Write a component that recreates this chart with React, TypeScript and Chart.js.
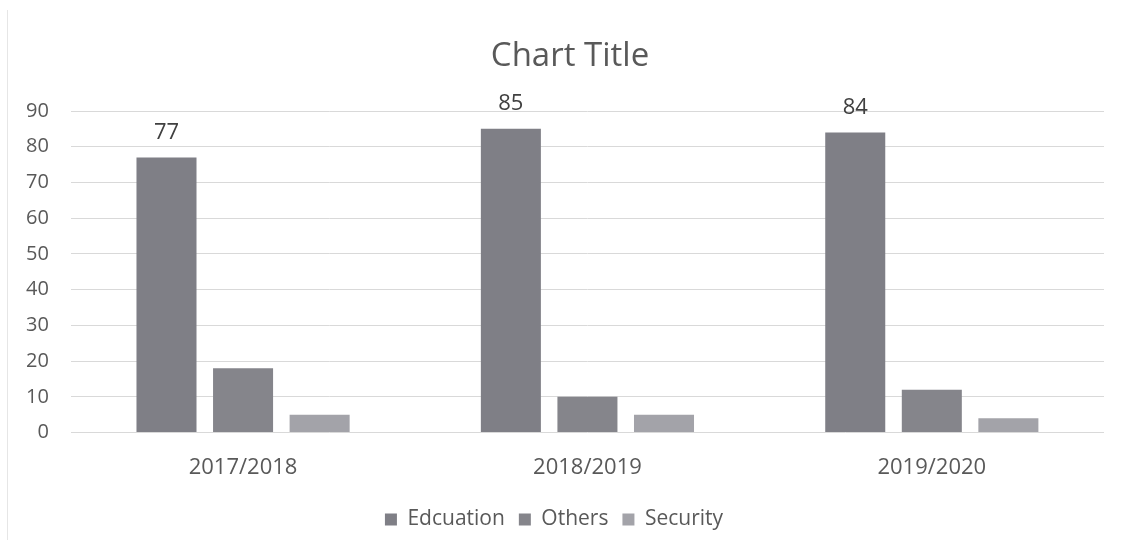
import React, { useEffect, useRef } from "react";
import { Chart, registerables } from "chart.js";

Chart.register(...registerables);

const titleText = "Chart Title";
const categories = ["2017/2018", "2018/2019", "2019/2020"];
const seriesNames = ["Edcuation", "Others", "Security"];
const education = [77, 85, 84];
const others = [18, 10, 12];
const security = [5, 5, 4];
const yTicks = [0, 10, 20, 30, 40, 50, 60, 70, 80, 90];

const colors = ["#7f7f86", "#85858b", "#a3a3a9"];
const FONT = "'Open Sans', 'Noto Sans', sans-serif";

const labelPlugin = {
  id: "eduLabels",
  afterDatasetsDraw(chart: any) {
    const ctx = chart.ctx;
    const meta = chart.getDatasetMeta(0);
    ctx.save();
    ctx.font = `22px ${FONT}`;
    ctx.fillStyle = "#404040";
    ctx.textAlign = "center";
    ctx.textBaseline = "middle";
    meta.data.forEach((bar: any, i: number) => {
      ctx.fillText(String(education[i]), bar.x, bar.y - 25);
    });
    ctx.restore();
  },
};

const titlePlugin = {
  id: "centeredTitle",
  afterDraw(chart: any) {
    const ctx = chart.ctx;
    const area = chart.chartArea;
    ctx.save();
    ctx.font = `33px ${FONT}`;
    ctx.fillStyle = "#595959";
    ctx.textAlign = "center";
    ctx.textBaseline = "middle";
    ctx.fillText(titleText, (area.left + area.right) / 2 + 482 - (area.left + area.right) / 2 + 88, area.top - 54);
    ctx.restore();
  },
};

export default function App() {
  const ref = useRef<HTMLCanvasElement>(null);
  useEffect(() => {
    if (!ref.current) return;
    const chart = new Chart(ref.current, {
      type: "bar",
      data: {
        labels: categories,
        datasets: [
          { label: seriesNames[0], data: education, backgroundColor: colors[0] },
          { label: seriesNames[1], data: others, backgroundColor: colors[1] },
          { label: seriesNames[2], data: security, backgroundColor: colors[2] },
        ],
      },
      options: {
        animation: false,
        responsive: true,
        maintainAspectRatio: false,
        datasets: { bar: { categoryPercentage: 0.667, barPercentage: 0.784 } },
        layout: { padding: { left: 4, right: 18, top: 111, bottom: 10 } },
        plugins: {
          title: { display: false },
          legend: {
            position: "bottom",
            labels: {
              boxWidth: 12,
              boxHeight: 12,
              color: "#595959",
              font: { family: FONT, size: 21 },
              padding: 14,
            },
          },
          tooltip: { enabled: false },
        },
        scales: {
          x: {
            grid: { display: false },
            border: { display: false },
            ticks: { color: "#595959", font: { family: FONT, size: 22 }, padding: 14 },
          },
          y: {
            min: 0,
            max: 90,
            afterBuildTicks: (axis: any) => {
              axis.ticks = yTicks.map((v) => ({ value: v }));
            },
            grid: { color: "#d9d9d9", drawTicks: false },
            border: { display: false },
            ticks: { color: "#595959", font: { family: FONT, size: 20 }, padding: 22 },
          },
        },
      },
      plugins: [labelPlugin, titlePlugin],
    });
    return () => chart.destroy();
  }, []);
  return (
    <div
      style={{
        position: "fixed",
        left: 0,
        top: 0,
        width: 1122,
        height: 550,
        background: "#fff",
      }}
    >
      <div style={{ position: "absolute", left: 7, top: 10, width: 1, height: 530, background: "#e6e6e6" }} />
      <canvas ref={ref} />
    </div>
  );
}
